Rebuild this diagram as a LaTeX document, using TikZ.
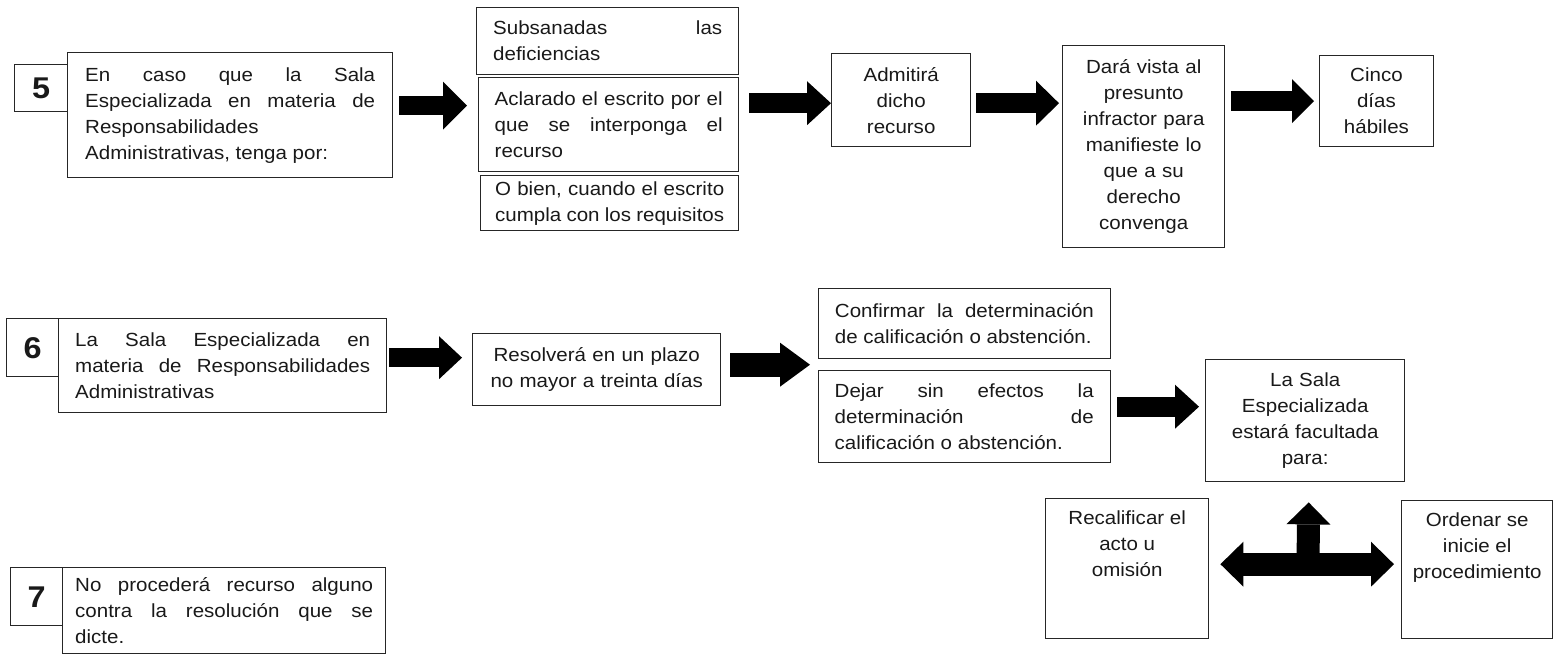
\documentclass[tikz,border=0pt]{standalone}
\usepackage{fontspec}
\setmainfont{Liberation Sans}[FakeStretch=1.08]
\usetikzlibrary{arrows.meta,calc}
\tolerance=10000 \hbadness=10000 \hyphenpenalty=10000 \exhyphenpenalty=10000
\begin{document}
\begin{tikzpicture}[x=1pt,y=-1pt,
  tbox/.style={draw=black!85, line width=1.4pt, inner sep=0pt, anchor=north west,
    font=\fontsize{19}{26}\selectfont, text=black!90},
  numbox/.style={draw=black!85, line width=1.4pt, inner sep=0pt, anchor=north west,
    font=\fontsize{30}{30}\selectfont\bfseries, text=black!90},
  txt/.style={inner sep=0pt, font=\fontsize{19}{26}\selectfont, align=center, text=black!90},
  blk/.style={line width=20pt, black, -{Triangle[length=23pt,width=45pt,line width=0pt]}},
  dblk/.style={line width=23pt, black,
    {Triangle[length=23pt,width=45pt,line width=0pt]}-{Triangle[length=23pt,width=45pt,line width=0pt]}}
]
\useasboundingbox (0,0) rectangle (1553,655);

% ---- row 5 ----
\node[numbox, minimum width=53pt, minimum height=47pt] (n5) at (14,64) {5};
\node[tbox, minimum width=325pt, minimum height=125pt, text width=290pt, align=justify] (b5) at (67,52)
  {En caso que la Sala\linebreak Especializada en materia de\linebreak Responsabilidades\newline Administrativas, tenga por:};
\node[tbox, minimum width=262pt, minimum height=67pt, text width=229pt, align=justify] (sub) at (476,7)
  {Subsanadas las\linebreak deficiencias};
\node[tbox, minimum width=260pt, minimum height=94pt, text width=228pt, align=justify] (acl) at (478,77)
  {Aclarado el escrito por el\linebreak que se interponga el\linebreak recurso};
\node[tbox, minimum width=258pt, minimum height=55pt, text width=229pt, align=justify] (obi) at (480,175)
  {O bien, cuando el escrito\linebreak cumpla con los requisitos};
\node[tbox, minimum width=139pt, minimum height=93pt, text width=129pt, align=center] (adm) at (831,53)
  {Admitirá\\dicho\\recurso};
\node[tbox, minimum width=162pt, minimum height=202pt, text width=152pt, align=center] (dar) at (1062,45)
  {Dará vista al\\presunto\\infractor para\\manifieste lo\\que a su\\derecho\\convenga};
\node[tbox, minimum width=114.5pt, minimum height=91pt, text width=104pt, align=center] (cin) at (1318.5,55)
  {Cinco\\días\\hábiles};

% ---- row 6 ----
\node[numbox, minimum width=52pt, minimum height=58pt] (n6) at (6,318) {6};
\node[tbox, minimum width=328pt, minimum height=94pt, text width=295pt, align=justify] (b6) at (58,318)
  {La Sala Especializada en\linebreak materia de Responsabilidades\linebreak Administrativas};
\node[tbox, minimum width=248pt, minimum height=72pt, text width=238pt, align=center] (res) at (472,333)
  {Resolverá en un plazo\\no mayor a treinta días};
\node[tbox, minimum width=292.5pt, minimum height=70pt, text width=259pt, align=justify] (con) at (817.5,288)
  {Confirmar la determinación\linebreak de calificación o abstención.};
\node[tbox, minimum width=292pt, minimum height=92pt, text width=259pt, align=justify] (dej) at (817.5,370)
  {Dejar sin efectos la\linebreak determinación de\linebreak calificación o abstención.};
\node[tbox, minimum width=199pt, minimum height=122pt, text width=189pt, align=center] (sal) at (1205,359)
  {La Sala\\Especializada\\estará facultada\\para:};
\node[tbox, minimum width=163pt, minimum height=140pt] (rec) at (1045,498) {};
\node[txt, anchor=north] (rect) at ($(rec.north)+(0,13)$) {Recalificar el\\acto u\\omisión};
\node[tbox, minimum width=151pt, minimum height=138pt] (ord) at (1401,500) {};
\node[txt, anchor=north] (ordt) at ($(ord.north)+(0,13)$) {Ordenar se\\inicie el\\procedimiento};

% ---- row 7 ----
\node[numbox, minimum width=52pt, minimum height=58pt] (n7) at (10,567) {7};
\node[tbox, minimum width=323pt, minimum height=86pt, text width=298pt, align=justify] (b7) at (62,567)
  {No procederá recurso alguno\linebreak contra la resolución que se\linebreak dicte.};

% ---- block arrows ----
\draw[blk, line width=19pt, -{Triangle[length=24pt,width=48pt,line width=0pt]}]
  ($(b5.east)+(6,-9.5)$) -- ($(acl.west)+(-11,-19)$);
\draw[blk, -{Triangle[length=24pt,width=44pt,line width=0pt]}]
  ($(acl.east)+(10,-21.5)$) -- ($(adm.west)+(0,3)$);
\draw[blk] ($(adm.east)+(5,3)$) -- ($(dar.west)+(-3,-43.5)$);
\draw[blk, -{Triangle[length=22pt,width=44pt,line width=0pt]}]
  ($(dar.east)+(6,-45.5)$) -- ($(cin.west)+(-4.5,0)$);
\draw[blk, line width=19pt, -{Triangle[length=23pt,width=43pt,line width=0pt]}]
  ($(b6.east)+(2,-8)$) -- ($(res.west)+(-10,-12)$);
\draw[blk, line width=24pt, -{Triangle[length=30pt,width=44pt,line width=0pt]}]
  ($(res.east)+(9,-5)$) -- ($(con.west)+(-7.5,41)$);
\draw[blk, -{Triangle[length=24pt,width=44pt,line width=0pt]}]
  ($(dej.east)+(6.5,-10)$) -- ($(sal.west)+(-6,-14)$);
\draw[dblk] ($(rec.east)+(11,-4.5)$) -- ($(ord.west)+(-7,-5.5)$);
\coordinate (tj) at (1308,563.5);
\draw[blk, line width=23pt, -{Triangle[length=22pt,width=44pt,line width=0pt]}]
  (tj) -- ($(sal.south)+(3.5,20)$);
\end{tikzpicture}
\end{document}
